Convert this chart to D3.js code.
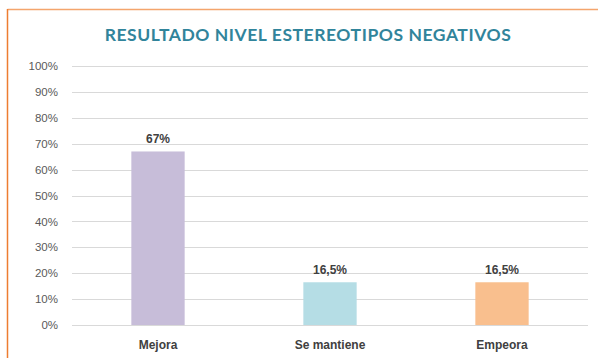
<!DOCTYPE html>
<html>
<head>
<meta charset="utf-8">
<script src="https://cdn.jsdelivr.net/npm/d3@7/dist/d3.min.js"></script>
<style>
  html, body { margin: 0; padding: 0; background: #fff; }
  svg { display: block; }
</style>
</head>
<body>
<svg id="chart" width="598" height="358"></svg>
<script>
// Chart data
const categories = ["Mejora", "Se mantiene", "Empeora"];
const values = [67, 16.5, 16.5];
const valueLabels = ["67%", "16,5%", "16,5%"];
const barColors = ["#C7BDD9", "#B5DDE5", "#F9BF8E"];
const tickValues = [0, 10, 20, 30, 40, 50, 60, 70, 80, 90, 100];
const titleText = "RESULTADO NIVEL ESTEREOTIPOS NEGATIVOS";

const svg = d3.select("#chart");
const W = 598, H = 358;

// Outer frame (top and left edges visible)
svg.append("line").attr("x1", 7.5).attr("y1", 9.5).attr("x2", W).attr("y2", 9.5)
  .attr("stroke", "#F4A56D").attr("stroke-width", 1.5);
svg.append("line").attr("x1", 7.5).attr("y1", 9).attr("x2", 7.5).attr("y2", H)
  .attr("stroke", "#ED7D31").attr("stroke-width", 1.5);

// Title
svg.append("text")
  .attr("x", 308).attr("y", 41)
  .attr("text-anchor", "middle")
  .attr("font-family", "Lato, 'Open Sans', sans-serif")
  .attr("font-weight", "bold")
  .attr("font-size", 17.5)
  .attr("letter-spacing", 0.55)
  .attr("fill", "#31849B")
  .text(titleText);

const x = d3.scaleBand().domain(categories).range([72, 588]).paddingInner(0.69).paddingOuter(0.345);
const y = d3.scaleLinear().domain([0, 100]).range([325, 66]);

// Gridlines
svg.append("g").selectAll("line").data(tickValues).join("line")
  .attr("x1", 72).attr("x2", 588)
  .attr("y1", d => Math.round(y(d)) + 0.5).attr("y2", d => Math.round(y(d)) + 0.5)
  .attr("stroke", "#D9D9D9").attr("stroke-width", 1);

// Y axis labels
const yAxis = d3.axisLeft(y).tickValues(tickValues).tickFormat(d => d + "%").tickSize(0).tickPadding(14);
const gy = svg.append("g").attr("transform", "translate(72,0)").call(yAxis);
gy.select(".domain").remove();
gy.selectAll("text")
  .attr("font-family", "'Liberation Sans', Arial, sans-serif")
  .attr("font-size", 11.5)
  .attr("fill", "#595959");

// Bars
svg.append("g").selectAll("rect").data(values).join("rect")
  .attr("x", (d, i) => x(categories[i]))
  .attr("width", x.bandwidth())
  .attr("y", d => y(d))
  .attr("height", d => y(0) - y(d))
  .attr("fill", (d, i) => barColors[i]);

// Value labels
svg.append("g").selectAll("text").data(values).join("text")
  .attr("x", (d, i) => x(categories[i]) + x.bandwidth() / 2)
  .attr("y", d => y(d) - 8)
  .attr("text-anchor", "middle")
  .attr("font-family", "'Liberation Sans', Arial, sans-serif")
  .attr("font-weight", "bold")
  .attr("font-size", 12)
  .attr("fill", "#404040")
  .text((d, i) => valueLabels[i]);

// X axis category labels
const xAxis = d3.axisBottom(x).tickSize(0).tickPadding(15);
const gx = svg.append("g").attr("transform", "translate(0,325)").call(xAxis);
gx.select(".domain").remove();
gx.selectAll("text")
  .attr("font-family", "'Liberation Sans', Arial, sans-serif")
  .attr("font-weight", "bold")
  .attr("font-size", 12)
  .attr("fill", "#404040");
</script>
</body>
</html>
